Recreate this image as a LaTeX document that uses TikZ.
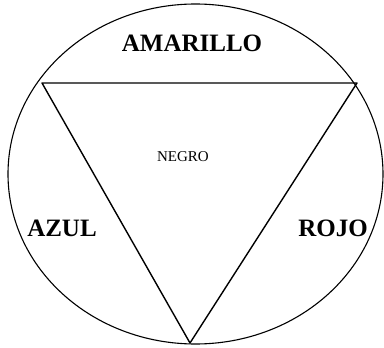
\documentclass[tikz,border=0pt]{standalone}
\usepackage{fontspec}
\setmainfont{Liberation Serif}
\usepackage{tikz}
\usetikzlibrary{positioning,shapes.geometric}
\definecolor{ink}{HTML}{000000}

\tikzset{
  rim/.style={draw=ink, line width=1.1pt, ellipse, minimum width=375pt, minimum height=340pt, inner sep=0pt},
  edge/.style={draw=ink, line width=1.4pt, line join=round},
  colour/.style={text=ink, font=\fontsize{25}{29}\selectfont\bfseries, inner sep=0pt},
  centre/.style={text=ink, font=\fontsize{15}{18}\selectfont, inner sep=0pt}
}

\begin{document}
\begin{tikzpicture}[x=1pt, y=-1pt]
  \useasboundingbox (0,0) rectangle (384,348);
  % outer circle of colours
  \node[rim] (circle) at (195.5,174) {};
  % the triangle
  \coordinate (tl) at (42,83);
  \coordinate (tr) at (357,83);
  \coordinate (bt) at (190,343);
  \draw[edge] (tl) -- (tr) -- (bt) -- cycle;
  % labels
  \node[colour] (amarillo) at (192,43) {AMARILLO};
  \node[colour] (azul) at (62,228) {AZUL};
  \node[colour] (rojo) at (333,228) {ROJO};
  \node[centre] (negro) at (183,157) {NEGRO};
\end{tikzpicture}
\end{document}
